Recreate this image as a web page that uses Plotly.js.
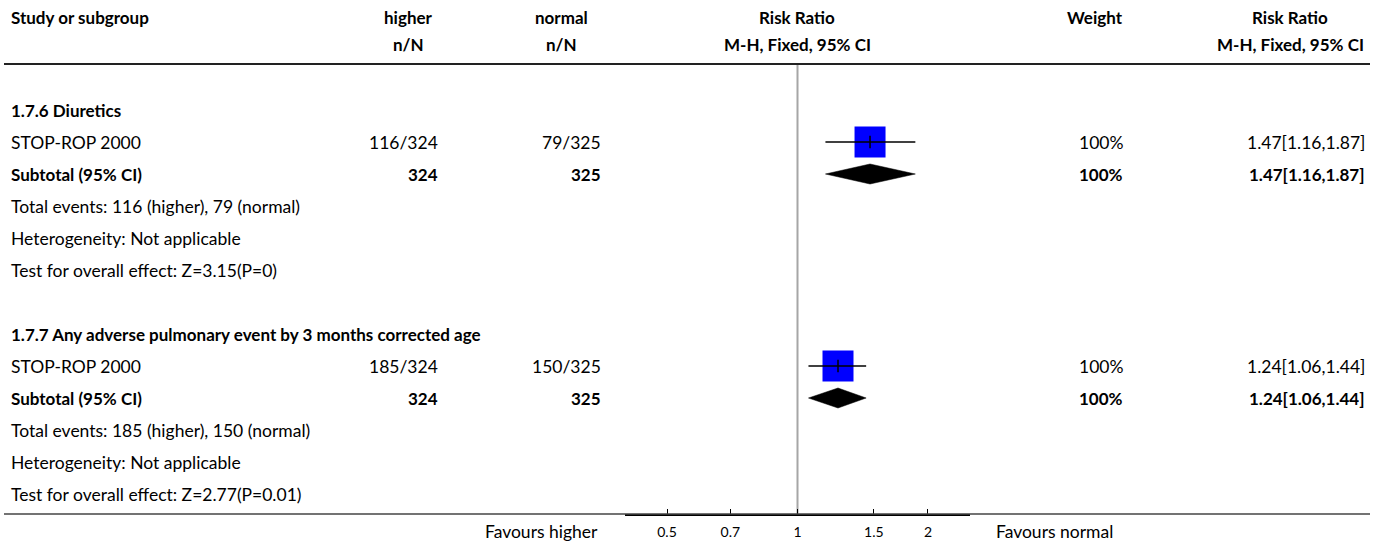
<!DOCTYPE html>
<html>
<head>
<meta charset="utf-8">
<script src="https://cdn.plot.ly/plotly-3.0.1.min.js"></script>
<style>html,body{margin:0;padding:0;background:#fff;}#chart{width:1375px;height:548px;}</style>
</head>
<body>
<div id="chart"></div>
<script>
// ---- data ----
var rowLabels = [
  "1.7.6 Diuretics",
  "STOP-ROP 2000",
  "Subtotal (95% CI)",
  "Total events: 116 (higher), 79 (normal)",
  "Heterogeneity: Not applicable",
  "Test for overall effect: Z=3.15(P=0)",
  "",
  "1.7.7 Any adverse pulmonary event by 3 months corrected age",
  "STOP-ROP 2000",
  "Subtotal (95% CI)",
  "Total events: 185 (higher), 150 (normal)",
  "Heterogeneity: Not applicable",
  "Test for overall effect: Z=2.77(P=0.01)"
];
var rowBold = [true, false, true, false, false, false, false, true, false, true, false, false, false];
var higherCol = ["", "116/324", "324", "", "", "", "", "", "185/324", "324", "", "", ""];
var normalCol = ["", "79/325", "325", "", "", "", "", "", "150/325", "325", "", "", ""];
var weightCol = ["", "100%", "100%", "", "", "", "", "", "100%", "100%", "", "", ""];
var rrCol = ["", "1.47[1.16,1.87]", "1.47[1.16,1.87]", "", "", "", "", "", "1.24[1.06,1.44]", "1.24[1.06,1.44]", "", "", ""];

var studyRows = [1, 8];
var studyRR = [1.47, 1.24];
var studyLo = [1.16, 1.06];
var studyHi = [1.87, 1.44];
var studyWeight = [100, 100];

var subtotalRows = [2, 9];
var subtotalRR = [1.47, 1.24];
var subtotalLo = [1.16, 1.06];
var subtotalHi = [1.87, 1.44];

var tickVals = [0.5, 0.7, 1, 1.5, 2];
var tickText = ["0.5", "0.7", "1", "1.5", "2"];
var headers1 = ["Study or subgroup", "higher", "normal", "Risk Ratio", "Weight", "Risk Ratio"];
var headers2 = ["", "n/N", "n/N", "M-H, Fixed, 95% CI", "", "M-H, Fixed, 95% CI"];
var favourLeft = "Favours higher";
var favourRight = "Favours normal";

// ---- layout helpers ----
var W = 1375, H = 548;
var FONT = "Lato, 'Noto Sans', sans-serif";
var FS_REG = 17.5, FS_BOLD = 17, FS_FAV = 17.5;
var rowTop = 110, rowStep = 32;       // pixel y of row 0 and spacing
var plotBottom = 514;                 // x axis line
var headLine = 64;
function rowFromPx(p) { return (p - rowTop) / rowStep; }
function px(x) { return x / W; }
function py(y) { return 1 - y / H; }

var traces = [];
// reference line at 1
traces.push({
  x: [1, 1], y: [rowFromPx(headLine), rowFromPx(plotBottom)],
  mode: "lines", line: {color: "#a6a6a6", width: 2}, hoverinfo: "skip", showlegend: false
});
// study squares, CIs, centre ticks
traces.push({
  x: studyRR, y: studyRows, mode: "markers",
  marker: {symbol: "square", color: "#0000ff", opacity: 1,
           size: studyWeight.map(function (w) { return 31 * Math.sqrt(w / 100); }), line: {width: 0}},
  hoverinfo: "skip", showlegend: false
});
for (var i = 0; i < studyRows.length; i++) {
  traces.push({
    x: [studyLo[i], studyHi[i]], y: [studyRows[i], studyRows[i]],
    mode: "lines", line: {color: "#000", width: 1.5}, hoverinfo: "skip", showlegend: false
  });
}
traces.push({
  x: studyRR, y: studyRows, mode: "markers",
  marker: {symbol: "line-ns", size: 9, opacity: 1, line: {color: "#000", width: 1.5}},
  hoverinfo: "skip", showlegend: false
});
// subtotal diamonds
var dh = 10 / rowStep;
for (var i = 0; i < subtotalRows.length; i++) {
  var r = subtotalRows[i];
  traces.push({
    x: [subtotalLo[i], subtotalRR[i], subtotalHi[i], subtotalRR[i], subtotalLo[i]],
    y: [r, r - dh, r, r + dh, r],
    mode: "lines", fill: "toself", fillcolor: "#000", line: {color: "#000", width: 0.5},
    hoverinfo: "skip", showlegend: false
  });
}

var ann = [];
function addText(text, x, y, anchor, bold, size, yref) {
  if (!text) return;
  ann.push({
    text: bold ? "<b>" + text + "</b>" : text,
    xref: "paper", x: px(x), xanchor: anchor,
    yref: yref || "y", y: y, yanchor: "middle",
    showarrow: false, font: {family: FONT, size: size, color: "#000"}
  });
}
// headers
var hx = [9, 408, 561, 797, 1095, 1290];
var ha = ["left", "center", "center", "center", "center", "center"];
for (var k = 0; k < headers1.length; k++) {
  addText(headers1[k], hx[k], py(17), ha[k], true, FS_BOLD, "paper");
  addText(headers2[k], hx[k], py(44), ha[k], true, FS_BOLD, "paper");
}
// rows
for (var j = 0; j < rowLabels.length; j++) {
  var fs = rowBold[j] ? FS_BOLD : FS_REG;
  addText(rowLabels[j], 9, j, "left", rowBold[j], fs);
  addText(higherCol[j], 440, j, "right", rowBold[j], fs);
  addText(normalCol[j], 603, j, "right", rowBold[j], fs);
  addText(weightCol[j], 1125, j, "right", rowBold[j], fs);
  addText(rrCol[j], 1367, j, "right", rowBold[j], fs);
}
addText(favourLeft, 600, py(531), "right", false, FS_FAV, "paper");
addText(favourRight, 994, py(531), "left", false, FS_FAV, "paper");

var shapes = [
  {type: "line", xref: "paper", yref: "paper", x0: px(4), x1: px(1370), y0: py(headLine), y1: py(headLine), line: {color: "#222", width: 2}},
  {type: "line", xref: "paper", yref: "paper", x0: px(4), x1: px(1370), y0: py(plotBottom), y1: py(plotBottom), line: {color: "#444", width: 1.5}}
];

var layout = {
  width: W, height: H,
  margin: {l: 0, r: 0, t: 0, b: 0},
  paper_bgcolor: "#fff", plot_bgcolor: "rgba(0,0,0,0)",
  showlegend: false,
  xaxis: {
    type: "log", domain: [px(625), px(970)],
    range: [Math.log10(0.4), Math.log10(2.5)],
    showgrid: false, zeroline: false,
    showline: true, linecolor: "#000", linewidth: 2,
    ticks: "inside", ticklen: 5, tickwidth: 1, tickcolor: "#000",
    tickvals: tickVals, ticktext: tickText,
    tickfont: {family: FONT, size: 14, color: "#000"},
    ticklabelstandoff: 4,
    fixedrange: true
  },
  yaxis: {
    domain: [1 - plotBottom / H, 1],
    range: [rowFromPx(plotBottom), rowFromPx(0)],
    visible: false, fixedrange: true
  },
  shapes: shapes,
  annotations: ann,
  font: {family: FONT}
};

Plotly.newPlot("chart", traces, layout, {staticPlot: true, displayModeBar: false});
</script>
</body>
</html>
